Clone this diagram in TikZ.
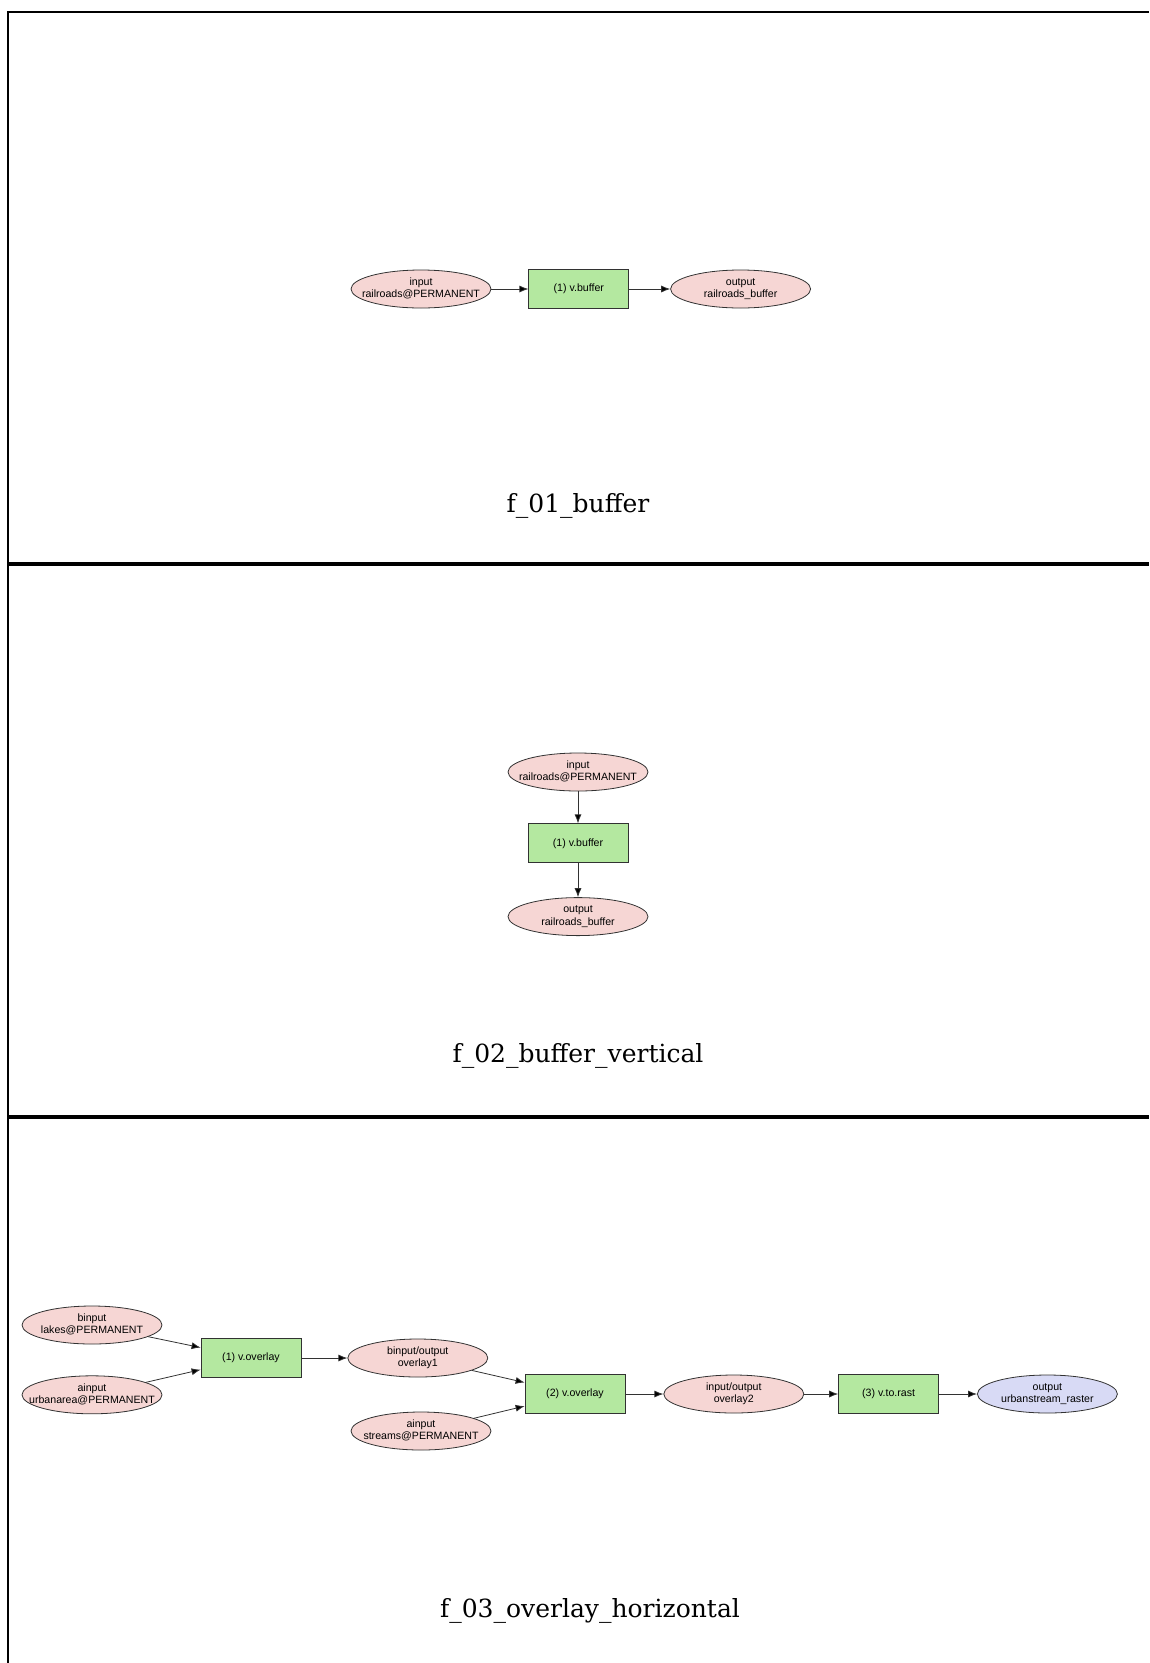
\documentclass[tikz,border=0pt]{standalone}
\usepackage{fontspec}
\setmainfont{DejaVu Serif}
\newfontfamily\nodefont{Liberation Sans}
\usetikzlibrary{positioning, shapes.geometric, arrows.meta}

\definecolor{datapink}{RGB}{246,214,212}
\definecolor{modgreen}{RGB}{180,232,160}
\definecolor{outblue}{RGB}{216,218,245}
\definecolor{edgegray}{RGB}{50,50,50}

% two-line label, kept centred even when it is wider than the ellipse
\newcommand{\twoline}[2]{\makebox[80pt]{\begin{tabular}{@{}c@{}}#1\\#2\end{tabular}}}

\tikzset{
    data/.style={ellipse, draw=edgegray, line width=0.8pt, fill=datapink, minimum width=140pt, minimum height=38pt, inner sep=0pt, font=\nodefont\fontsize{10.6}{12.5}\selectfont},
    result/.style={data, fill=outblue},
    module/.style={rectangle, draw=edgegray, line width=0.8pt, fill=modgreen, minimum width=100pt, minimum height=39pt, inner sep=0pt, font=\nodefont\fontsize{10.6}{12.5}\selectfont},
    arrow/.style={-{Latex[length=9pt, width=7pt, fill=black]}, draw=edgegray, line width=0.8pt},
    caption/.style={font=\fontsize{25}{30}\selectfont},
    rule/.style={line width=3.5pt}
}

\begin{document}
\begin{tikzpicture}[x=1pt, y=-1pt]
\useasboundingbox (0,0) rectangle (1149,1663);

% Frame and panel separators
\draw[line width=2.5pt] (8,12) -- (1149,12);
\draw[line width=2pt] (8,11) -- (8,1663);
\draw[rule] (8,564) -- (1149,564);
\draw[rule] (8,1117) -- (1149,1117);

% Panel 1: horizontal buffer
\node (in1) [data] at (421,289) {\twoline{input}{railroads@PERMANENT}};
\node (buf1) [module, right=37pt of in1] {(1) v.buffer};
\node (out1) [data, right=41pt of buf1] {\twoline{output}{railroads\_buffer}};

\draw[arrow] (in1) -- (buf1);
\draw[arrow] (buf1) -- (out1);

\node (cap1) [caption] at (578,506) {f\_01\_buffer};

% Panel 2: vertical buffer
\node (in2) [data] at (578,772) {\twoline{input}{railroads@PERMANENT}};
\node (buf2) [module, below=32pt of in2] {(1) v.buffer};
\node (out2) [data, below=34pt of buf2] {\twoline{output}{railroads\_buffer}};

\draw[arrow] (in2) -- (buf2);
\draw[arrow] (buf2) -- (out2);

\node (cap2) [caption] at (578,1056) {f\_02\_buffer\_vertical};

% Panel 3: overlay chain
\node (lakes) [data] at (92,1325) {\twoline{binput}{lakes@PERMANENT}};
\node (urban) [data, below=31pt of lakes] {\twoline{ainput}{urbanarea@PERMANENT}};
\node (ovl1) [module] at (251,1358) {(1) v.overlay};
\node (res1) [data, right=46pt of ovl1] {\twoline{binput/output}{overlay1}};
\node (streams) [data] at (421,1431) {\twoline{ainput}{streams@PERMANENT}};
\node (ovl2) [module] at (575,1394) {(2) v.overlay};
\node (res2) [data, right=38pt of ovl2] {\twoline{input/output}{overlay2}};
\node (rast) [module, right=34pt of res2] {(3) v.to.rast};
\node (out3) [result, right=38pt of rast] {\twoline{output}{urbanstream\_raster}};

\draw[arrow] (lakes) -- (ovl1);
\draw[arrow] (urban) -- (ovl1);
\draw[arrow] (ovl1) -- (res1);
\draw[arrow] (res1) -- (ovl2);
\draw[arrow] (streams) -- (ovl2);
\draw[arrow] (ovl2) -- (res2);
\draw[arrow] (res2) -- (rast);
\draw[arrow] (rast) -- (out3);

\node (cap3) [caption] at (590,1611) {f\_03\_overlay\_horizontal};

\end{tikzpicture}
\end{document}
